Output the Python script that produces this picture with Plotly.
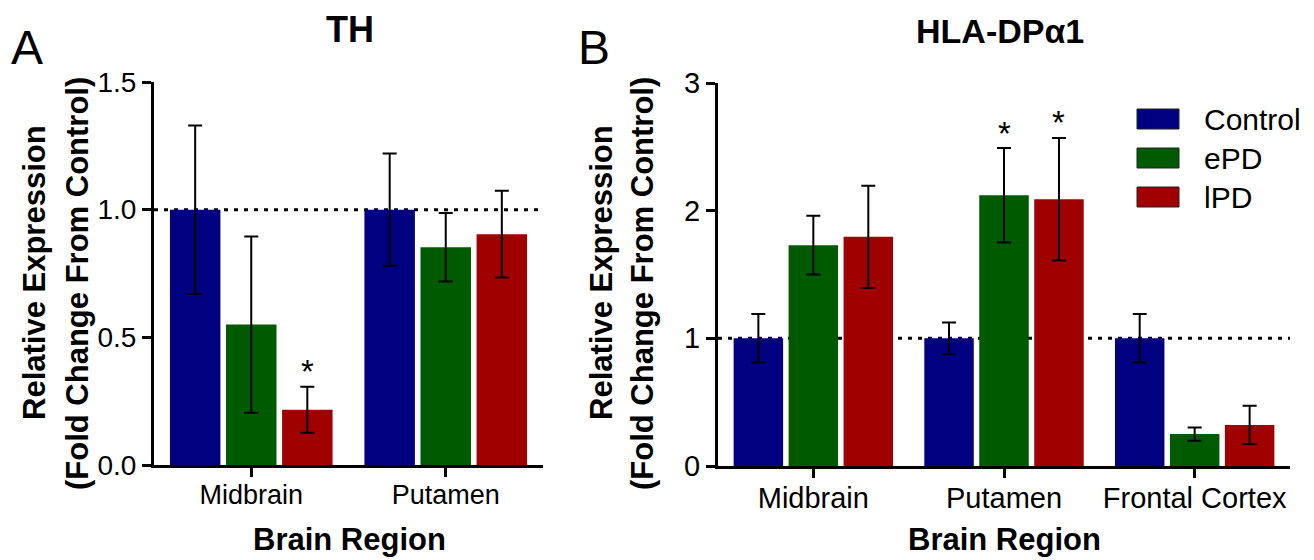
import plotly.graph_objects as go

# ---- data -------------------------------------------------------------
groups = ["Control", "ePD", "lPD"]
group_colors = ["#000080", "#005A00", "#A00000"]

# Panel A: TH expression
th_regions = ["Midbrain", "Putamen"]
th_control = [1.0, 1.0]
th_control_sem = [0.33, 0.22]
th_epd = [0.55, 0.853]
th_epd_sem = [0.345, 0.134]
th_lpd = [0.216, 0.904]
th_lpd_sem = [0.09, 0.17]
th_significant = [("lPD", "Midbrain")]

# Panel B: HLA-DPa1 expression
hla_regions = ["Midbrain", "Putamen", "Frontal Cortex"]
hla_control = [1.0, 1.0, 1.0]
hla_control_sem = [0.19, 0.125, 0.19]
hla_epd = [1.73, 2.12, 0.25]
hla_epd_sem = [0.23, 0.37, 0.052]
hla_lpd = [1.795, 2.09, 0.321]
hla_lpd_sem = [0.40, 0.48, 0.15]
hla_significant = [("ePD", "Putamen"), ("lPD", "Putamen")]

# ---- layout constants ---------------------------------------------------
W, H = 1314, 560
FONT = "Arial, Liberation Sans, sans-serif"
BARGAP = 0.135
A_DOMAIN_X = [154 / W, 543 / W]
A_DOMAIN_Y = [(H - 465) / H, (H - 82) / H]
B_DOMAIN_X = [718 / W, 1290 / W]
B_DOMAIN_Y = [(H - 466) / H, (H - 83) / H]


def px(x, y):
    """Convert figure pixel position (from top-left) to paper coordinates."""
    return x / W, 1 - y / H


fig = go.Figure()


def add_panel(regions, means, sems, xa, ya):
    for name, color, m, s in zip(groups, group_colors, means, sems):
        fig.add_trace(go.Bar(
            x=regions, y=m, name=name, marker_color=color,
            marker_line_width=0, showlegend=False,
            error_y=dict(type="data", array=s, visible=True, color="black",
                         thickness=2, width=7),
            xaxis=xa, yaxis=ya,
        ))


add_panel(th_regions, [th_control, th_epd, th_lpd],
          [th_control_sem, th_epd_sem, th_lpd_sem], "x", "y")
add_panel(hla_regions, [hla_control, hla_epd, hla_lpd],
          [hla_control_sem, hla_epd_sem, hla_lpd_sem], "x2", "y2")


def axis_style(size):
    return dict(showline=True, linecolor="black", linewidth=3,
                ticks="outside", tickcolor="black", tickwidth=3,
                ticklen=9, showgrid=False, zeroline=False, automargin=False,
                tickfont=dict(family=FONT, size=size, color="black"))


fig.update_layout(
    width=W, height=H, autosize=False,
    margin=dict(l=0, r=0, t=0, b=0, pad=0, autoexpand=False),
    plot_bgcolor="white", paper_bgcolor="white",
    showlegend=False,
    barmode="group", bargap=BARGAP, bargroupgap=0.1,
    xaxis=dict(domain=A_DOMAIN_X, anchor="y", range=[-0.5, 1.5],
               ticklabelstandoff=-5, **axis_style(27)),
    yaxis=dict(domain=A_DOMAIN_Y, anchor="x", range=[0, 1.5], dtick=0.5,
               tickformat=".1f", **axis_style(28)),
    xaxis2=dict(domain=B_DOMAIN_X, anchor="y2", range=[-0.5, 2.5],
                ticklabelstandoff=-5, **axis_style(29)),
    yaxis2=dict(domain=B_DOMAIN_Y, anchor="x2", range=[0, 3], dtick=1,
                **axis_style(29)),
)

# dotted reference line at fold change = 1
for xr, yr in (("x domain", "y"), ("x2 domain", "y2")):
    fig.add_shape(type="line", xref=xr, yref=yr, x0=0, x1=1, y0=1, y1=1,
                  line=dict(color="black", width=3, dash="4px,6px"),
                  layer="below")

annotations = []


def txt(x, y, text, size, bold=False, **kw):
    if bold:
        text = f"<b>{text}</b>"
    px_, py_ = px(x, y)
    d = dict(x=px_, y=py_, xref="paper", yref="paper", text=text,
             xanchor="center", yanchor="middle", showarrow=False,
             font=dict(family=FONT, size=size, color="black"))
    d.update(kw)
    annotations.append(d)


# panel letters and titles
txt(27, 47, "A", 48)
txt(594, 47, "B", 48)
txt(350, 29, "TH", 36, bold=True)
txt(1000, 31, "HLA-DPα1", 34, bold=True)

# axis titles
for cx in (349, 1004):
    txt(cx, 539, "Brain Region", 31, bold=True)
for x1, x2 in ((34, 77), (601, 642)):
    txt(x1, 273, "Relative Expression", 31, bold=True, textangle=-90)
    txt(x2, 284, "(Fold Change From Control)", 31, bold=True, textangle=-90)


# significance markers placed above the error bar of the marked group
def stars(regions, means, sems, marks, xa, ya, domain_x):
    cat_px = (domain_x[1] - domain_x[0]) * W / len(regions)
    slot = cat_px * (1 - BARGAP) / len(groups)
    for grp, reg in marks:
        gi = groups.index(grp)
        ri = regions.index(reg)
        top = means[gi][ri] + sems[gi][ri]
        annotations.append(dict(
            x=reg, y=top, xref=xa, yref=ya, text="*", showarrow=False,
            xshift=(gi - 1) * slot, yshift=15, xanchor="center",
            yanchor="middle",
            font=dict(family=FONT, size=33, color="black")))


stars(th_regions, [th_control, th_epd, th_lpd],
      [th_control_sem, th_epd_sem, th_lpd_sem], th_significant, "x", "y",
      A_DOMAIN_X)
stars(hla_regions, [hla_control, hla_epd, hla_lpd],
      [hla_control_sem, hla_epd_sem, hla_lpd_sem], hla_significant, "x2", "y2",
      B_DOMAIN_X)

# legend: coloured boxes with group names
for i, (name, color) in enumerate(zip(groups, group_colors)):
    yc = 119 + 39 * i
    x0, y0 = px(1137, yc - 10)
    x1, y1 = px(1179, yc + 10)
    fig.add_shape(type="rect", xref="paper", yref="paper",
                  x0=x0, x1=x1, y0=y0, y1=y1,
                  fillcolor=color, line=dict(color="#222222", width=1))
    txt(1202, yc, name, 30, xanchor="left")

fig.update_layout(annotations=annotations)
fig.write_html("out.html")
